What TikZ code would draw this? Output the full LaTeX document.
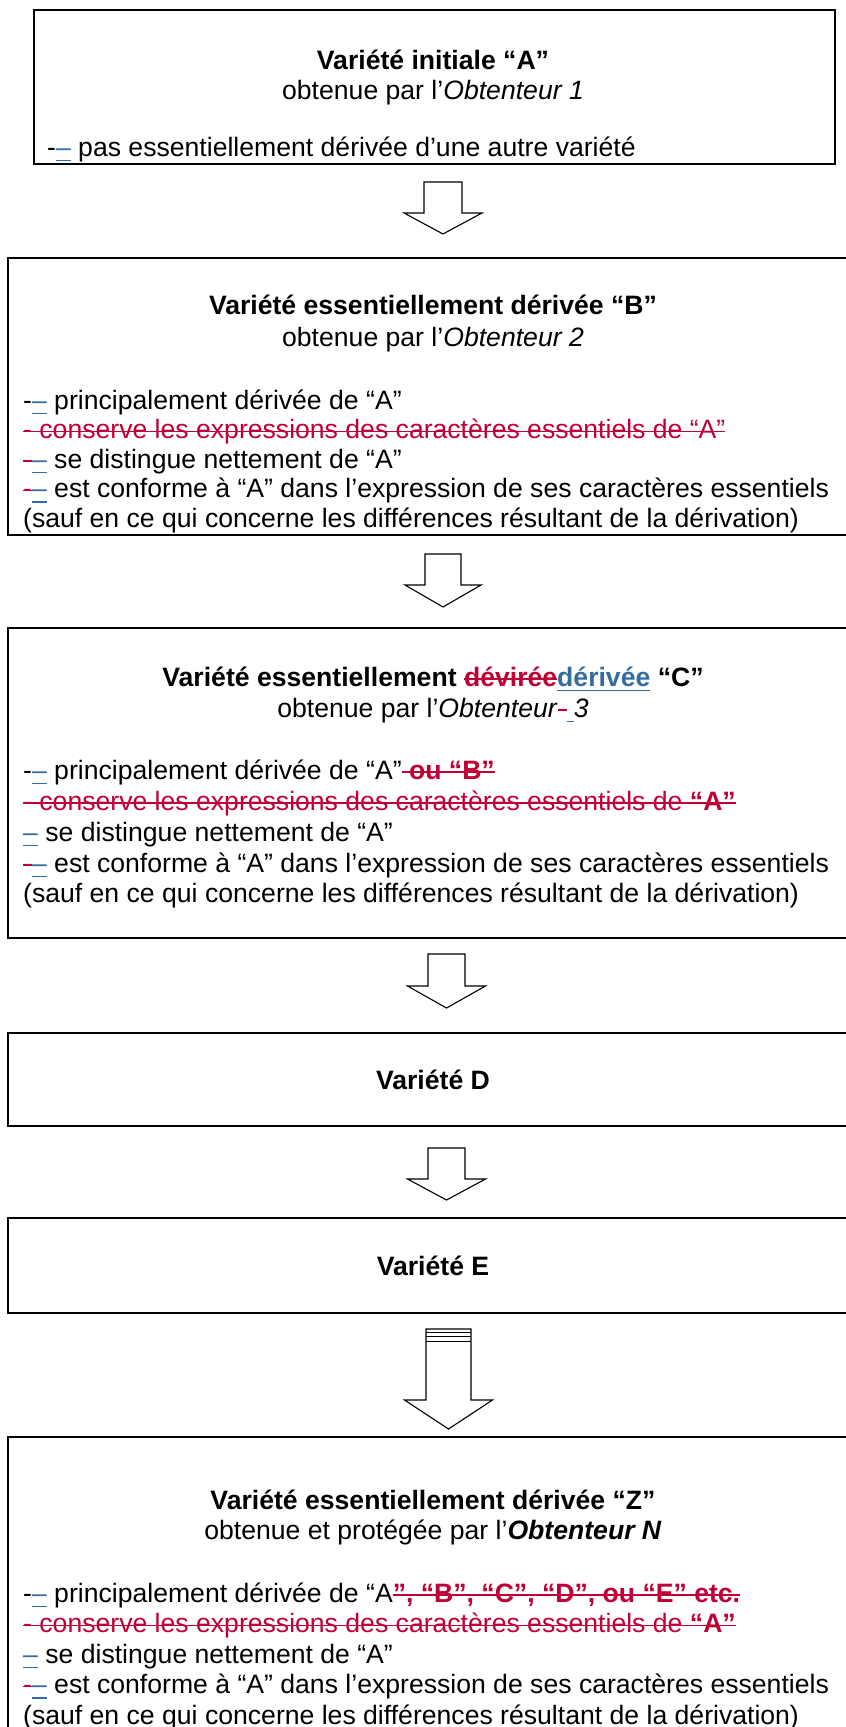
\documentclass[tikz,border=0pt]{standalone}
\usepackage{fontspec}
\setmainfont{Liberation Sans}
\usepackage{tikz}
\usetikzlibrary{calc}

\definecolor{delred}{RGB}{192,0,52}
\definecolor{insblue}{RGB}{52,108,160}
\newsavebox\markbox
\newcommand\deltext[1]{{\color{delred}\sbox\markbox{#1}\rlap{\rule[6.3pt]{\wd\markbox}{1.5pt}}\usebox\markbox}}
\newcommand\instext[1]{{\color{insblue}\sbox\markbox{#1}\rlap{\rule[-5pt]{\wd\markbox}{1.5pt}}\usebox\markbox}}
\newcommand\insgap{{\color{insblue}\rule[-5pt]{7.4pt}{1.5pt}}}

\begin{document}
\begin{tikzpicture}[
    x=1pt, y=-1pt,
    varbox/.style={draw, line width=2pt, inner sep=0pt},
    boxtitle/.style={anchor=base, inner sep=0pt, font=\fontsize{26.6}{30.5}\selectfont},
    boxline/.style={anchor=base west, inner sep=0pt, font=\fontsize{26.6}{30.5}\selectfont},
    blockarrow/.style={draw, line width=1.1pt, line join=miter}
]
\useasboundingbox (0,0) rectangle (846,1727);

% block arrow: top centre, half shaft, half head, shaft length, head length
\def\blockarrow#1#2#3#4#5{%
  \draw[blockarrow] (#1) ++(-#2,0) -- ++({2*#2},0) -- ++(0,#4) -- ++({#3-#2},0)
    -- ++(-#3,#5) -- ++(-#3,-#5) -- ++({#3-#2},0) -- cycle;}

% Boxes
\node[varbox, minimum width=801pt, minimum height=154pt] (va) at (434.5,87) {};
\node[varbox, minimum width=850pt, minimum height=277pt] (vb) at (433,396.5) {};
\node[varbox, minimum width=850pt, minimum height=310pt] (vc) at (433,783) {};
\node[varbox, minimum width=850pt, minimum height=93pt] (vd) at (433,1079.5) {};
\node[varbox, minimum width=850pt, minimum height=95pt] (ve) at (433,1265.5) {};
\node[varbox, minimum width=850pt, minimum height=340pt] (vz) at (433,1607) {};

% Variety A
\node[boxtitle] (va1) at (433,69) {\textbf{Variété initiale “A”}};
\node[boxtitle] (va2) at (433,99) {obtenue par l’\textit{Obtenteur 1}};
\node[boxline] (va3) at (47,156) {-\instext{–} pas essentiellement dérivée d’une autre variété};

% Variety B
\node[boxtitle] (vb1) at (433,314) {\textbf{Variété essentiellement dérivée “B”}};
\node[boxtitle] (vb2) at (433,346) {obtenue par l’\textit{Obtenteur 2}};
\node[boxline] (vb3) at (23,409) {-\instext{–} principalement dérivée de “A”};
\node[boxline] (vb4) at (23,438.5) {\deltext{- conserve les expressions des caractères essentiels de “A”}};
\node[boxline] (vb5) at (23,468) {\deltext{-}\instext{–} se distingue nettement de “A”};
\node[boxline] (vb6) at (23,497.5) {\deltext{-}\instext{–} est conforme à “A” dans l’expression de ses caractères essentiels};
\node[boxline] (vb7) at (23,527) {(sauf en ce qui concerne les différences résultant de la dérivation)};

% Variety C
\node[boxtitle] (vc1) at (433,686) {\textbf{Variété essentiellement \deltext{dévirée}\instext{dérivée} “C”}};
\node[boxtitle] (vc2) at (433,717) {obtenue par l’\textit{Obtenteur}\deltext{-}\insgap\textit{3}};
\node[boxline] (vc3) at (23,779) {-\instext{–} principalement dérivée de “A”\deltext{ \textbf{ou “B”}}};
\node[boxline] (vc4) at (23,810) {\deltext{- conserve les expressions des caractères essentiels de \textbf{“A”}}};
\node[boxline] (vc5) at (23,841) {\instext{–} se distingue nettement de “A”};
\node[boxline] (vc6) at (23,872) {\deltext{-}\instext{–} est conforme à “A” dans l’expression de ses caractères essentiels};
\node[boxline] (vc7) at (23,902) {(sauf en ce qui concerne les différences résultant de la dérivation)};

% Varieties D and E
\node[boxtitle] (vd1) at (433,1089) {\textbf{Variété D}};
\node[boxtitle] (ve1) at (433,1275) {\textbf{Variété E}};

% Variety Z
\node[boxtitle] (vz1) at (433,1509) {\textbf{Variété essentiellement dérivée “Z”}};
\node[boxtitle] (vz2) at (433,1539) {obtenue et protégée par l’\textbf{\textit{Obtenteur N}}};
\node[boxline] (vz3) at (23,1602) {-\instext{–} principalement dérivée de “A\deltext{\textbf{”, “B”, “C”, “D”, ou “E” etc.}}};
\node[boxline] (vz4) at (23,1632.5) {\deltext{- conserve les expressions des caractères essentiels de \textbf{“A”}}};
\node[boxline] (vz5) at (23,1663) {\instext{–} se distingue nettement de “A”};
\node[boxline] (vz6) at (23,1693.5) {\deltext{-}\instext{–} est conforme à “A” dans l’expression de ses caractères essentiels};
\node[boxline] (vz7) at (23,1724) {(sauf en ce qui concerne les différences résultant de la dérivation)};

% Arrows between the boxes
\coordinate (a1) at ($(va.south)+(8.5,17)$);
\coordinate (a2) at ($(vb.south)+(10,18)$);
\coordinate (a3) at ($(vc.south)+(13.5,15)$);
\coordinate (a4) at ($(vd.south)+(13.5,21)$);
\coordinate (a5) at ($(ve.south)+(15.5,15)$);
\blockarrow{a1}{19}{39}{31}{21}
\blockarrow{a2}{18}{38}{31}{22}
\blockarrow{a3}{18.5}{39}{32}{22}
\blockarrow{a4}{18.5}{39}{31}{21}
\blockarrow{a5}{22.5}{44}{71}{29}
\foreach \dy in {3.5,7,12.5}
  \draw[line width=1pt] ($(a5)+(-22.5,\dy)$) -- ($(a5)+(22.5,\dy)$);
\end{tikzpicture}
\end{document}
